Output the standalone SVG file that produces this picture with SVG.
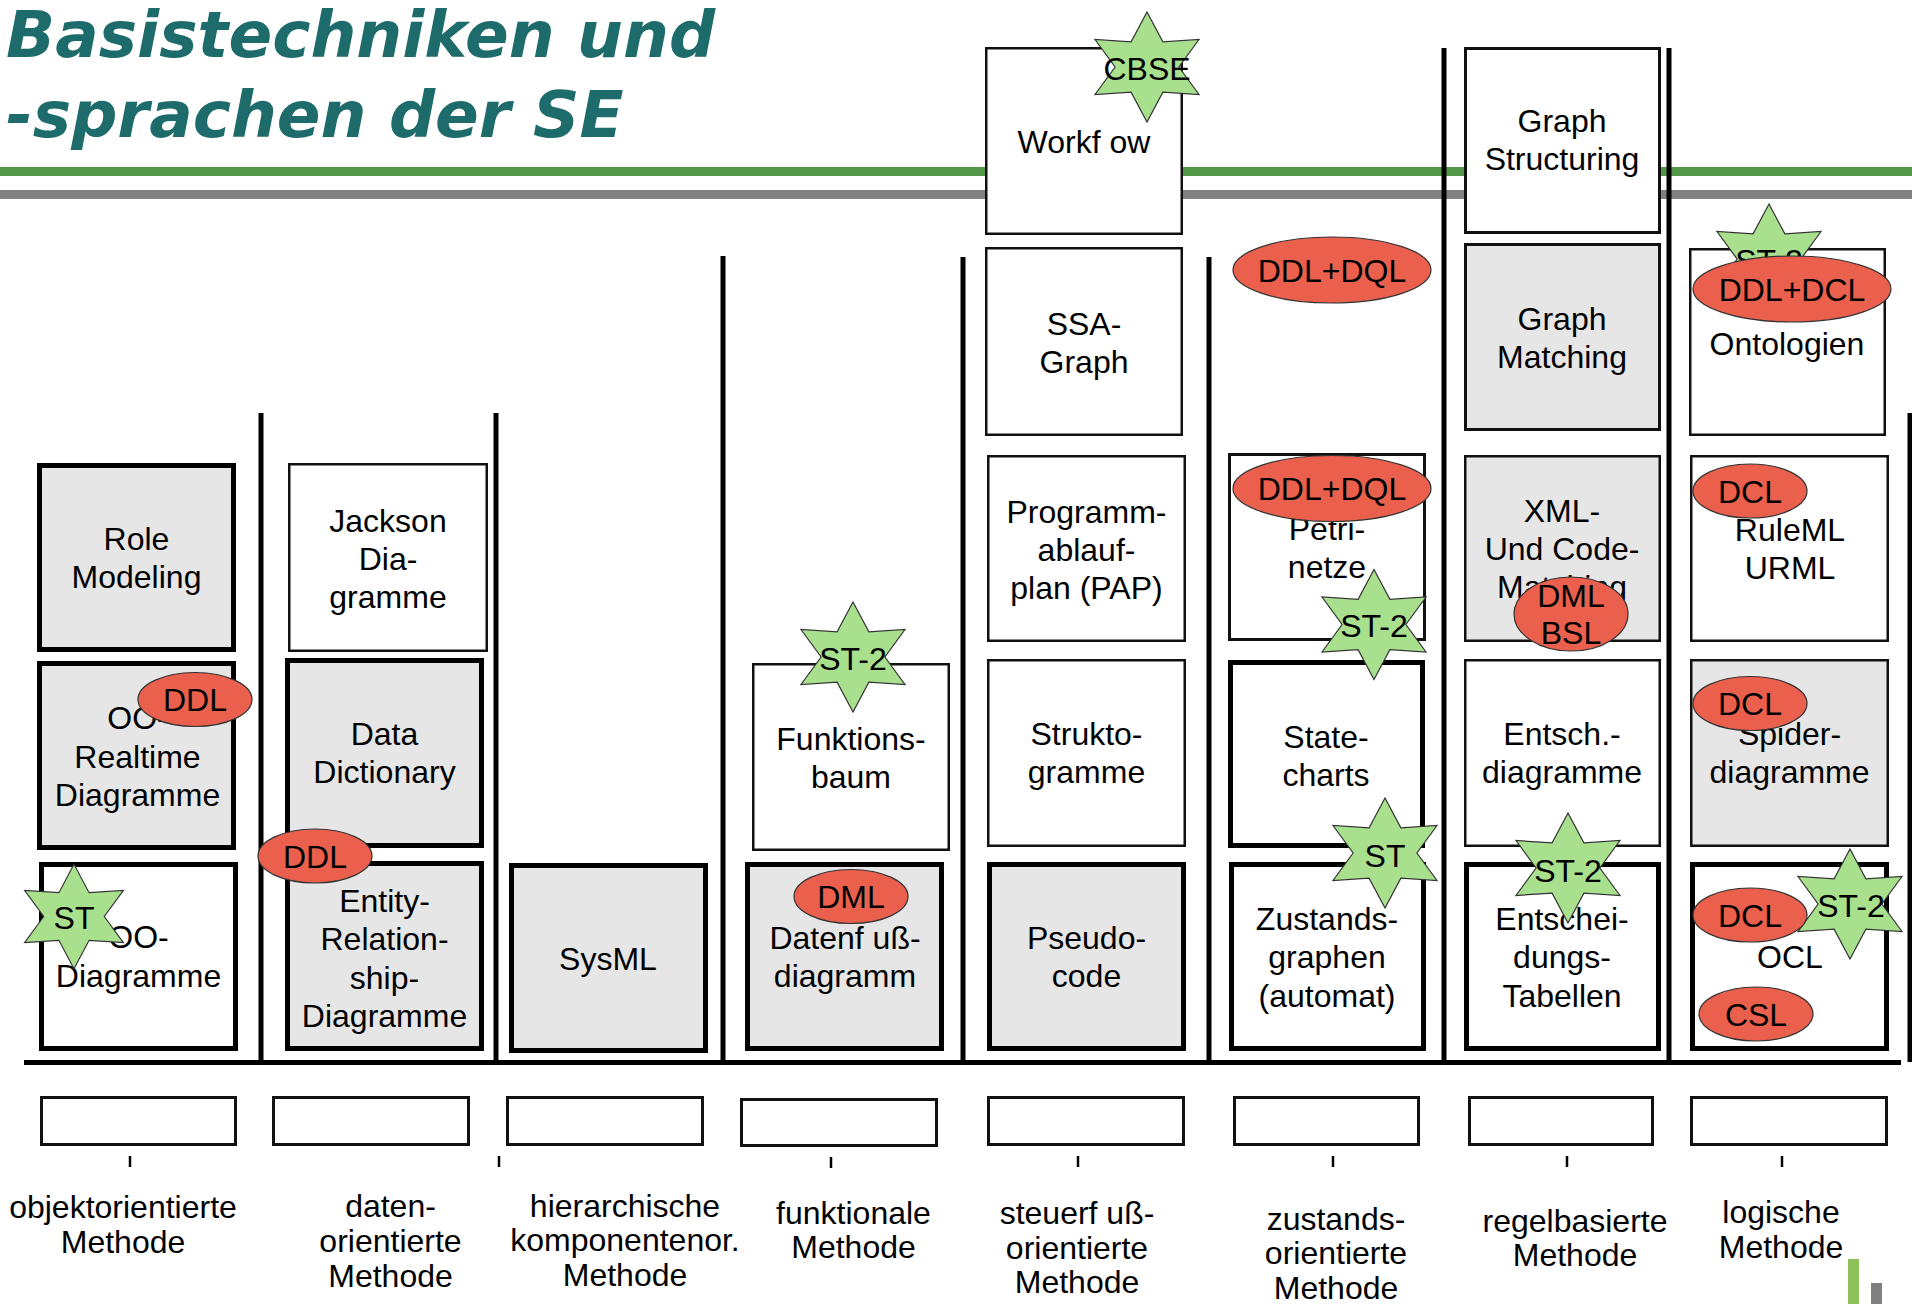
<svg xmlns="http://www.w3.org/2000/svg" width="1912" height="1304" viewBox="0 0 1912 1304">
<style>
.bk{stroke:#000;stroke-width:5}
.bn{stroke:#111;stroke-width:2.5}
.g{fill:#e6e6e6}
.w{fill:#fff}
.t{font-family:"Liberation Sans",Arial,sans-serif;font-size:32px;text-anchor:middle;fill:#000}
.title{font-family:"DejaVu Sans",sans-serif;font-size:64.5px;font-weight:bold;font-style:italic;fill:#1e6b6b}
.star{fill:#a8e08e;stroke:#333;stroke-width:1.2}
.tag{fill:#ea604c;stroke:#333;stroke-width:1.2}
.div{stroke:#000;stroke-width:5;fill:none}
.tick{stroke:#000;stroke-width:2.5}
.empty{fill:#fff;stroke:#111;stroke-width:3}
</style>
<defs>
<polygon id="star" points="0,-55 15.9,-25.1 52,-27.5 31.9,0 52,27.5 15.9,25.1 0,55 -15.9,25.1 -52,27.5 -31.9,0 -52,-27.5 -15.9,-25.1"/>
</defs>
<rect x="0" y="0" width="1912" height="1304" fill="#fff"/>

<g id="header">
<text class="title" x="6" y="57">Basistechniken und</text>
<text class="title" x="6" y="137">-sprachen der SE</text>
<rect x="0" y="167" width="1912" height="9" fill="#529848"/>
<rect x="0" y="190" width="1912" height="9" fill="#808080"/>
</g>

<g id="connectors">
<line class="div" x1="24" y1="1062.5" x2="1901" y2="1062.5"/>
<line class="div" x1="261" y1="413" x2="261" y2="1062"/>
<line class="div" x1="496" y1="413" x2="496" y2="1062"/>
<line class="div" x1="723" y1="256" x2="723" y2="1062"/>
<line class="div" x1="963" y1="257" x2="963" y2="1062"/>
<line class="div" x1="1209" y1="257" x2="1209" y2="1062"/>
<line class="div" x1="1444" y1="48" x2="1444" y2="1062"/>
<line class="div" x1="1669" y1="48" x2="1669" y2="1062"/>
<line class="div" x1="1910" y1="413" x2="1910" y2="1062"/>
<line class="tick" x1="130" y1="1156" x2="130" y2="1167"/>
<line class="tick" x1="499" y1="1156" x2="499" y2="1167"/>
<line class="tick" x1="831" y1="1157" x2="831" y2="1168"/>
<line class="tick" x1="1078" y1="1156" x2="1078" y2="1167"/>
<line class="tick" x1="1333" y1="1156" x2="1333" y2="1167"/>
<line class="tick" x1="1567" y1="1156" x2="1567" y2="1167"/>
<line class="tick" x1="1782" y1="1156" x2="1782" y2="1167"/>
</g>

<!-- Column 1 -->
<g id="role-modeling"><rect class="bk g" x="39.5" y="465.5" width="194" height="184"/>
<text class="t" x="136.5" y="550">Role</text><text class="t" x="136.5" y="588">Modeling</text></g>
<g id="oo-realtime"><rect class="bk g" x="39.5" y="663.5" width="194" height="184"/>
<text class="t" x="137.5" y="729">OO-</text><text class="t" x="137.5" y="768">Realtime</text><text class="t" x="137.5" y="806">Diagramme</text></g>
<g id="oo-diagramme"><rect class="bk w" x="41.5" y="864.5" width="194" height="184"/>
<text class="t" x="138.5" y="948">OO-</text><text class="t" x="138.5" y="987">Diagramme</text></g>

<!-- Column 2 -->
<g id="jackson"><rect class="bn w" x="289.25" y="464.25" width="197.5" height="186.5"/>
<text class="t" x="388" y="532">Jackson</text><text class="t" x="388" y="570">Dia-</text><text class="t" x="388" y="608">gramme</text></g>
<g id="data-dictionary"><rect class="bk g" x="287.5" y="660.5" width="194" height="185"/>
<text class="t" x="384.5" y="745">Data</text><text class="t" x="384.5" y="783">Dictionary</text></g>
<g id="er-diagramme"><rect class="bk g" x="287.5" y="863.5" width="194" height="185"/>
<text class="t" x="384.5" y="912">Entity-</text><text class="t" x="384.5" y="950">Relation-</text><text class="t" x="384.5" y="989">ship-</text><text class="t" x="384.5" y="1027">Diagramme</text></g>

<!-- Column 3 -->
<g id="sysml"><rect class="bk g" x="511.5" y="865.5" width="194" height="185"/>
<text class="t" x="608" y="970">SysML</text></g>

<!-- Column 4 -->
<g id="funktionsbaum"><rect class="bn w" x="753.25" y="664.25" width="195.5" height="185.5"/>
<text class="t" x="851" y="750">Funktions-</text><text class="t" x="851" y="788">baum</text></g>
<g id="datenfluss"><rect class="bk g" x="747.5" y="864.5" width="194" height="184"/>
<text class="t" x="845" y="949">Datenf uß-</text><text class="t" x="845" y="987">diagramm</text></g>

<!-- Column 5 -->
<g id="workflow"><rect class="bn w" x="986.25" y="48.25" width="195.5" height="185.5"/>
<text class="t" x="1084" y="153">Workf ow</text></g>
<g id="ssa-graph"><rect class="bn w" x="986.25" y="248.25" width="195.5" height="186.5"/>
<text class="t" x="1084" y="335">SSA-</text><text class="t" x="1084" y="373">Graph</text></g>
<g id="pap"><rect class="bn w" x="988.25" y="456.25" width="196.5" height="184.5"/>
<text class="t" x="1086.5" y="523">Programm-</text><text class="t" x="1086.5" y="561">ablauf-</text><text class="t" x="1086.5" y="599">plan (PAP)</text></g>
<g id="struktogramme"><rect class="bn w" x="988.25" y="660.25" width="196.5" height="185.5"/>
<text class="t" x="1086.5" y="745">Strukto-</text><text class="t" x="1086.5" y="783">gramme</text></g>
<g id="pseudocode"><rect class="bk g" x="989.5" y="864.5" width="194" height="184"/>
<text class="t" x="1086.5" y="949">Pseudo-</text><text class="t" x="1086.5" y="987">code</text></g>

<!-- Column 6 -->
<g id="petrinetze"><rect class="bn w" x="1229.5" y="454.5" width="195" height="185" style="stroke-width:3"/>
<text class="t" x="1327" y="540">Petri-</text><text class="t" x="1327" y="578">netze</text></g>
<g id="statecharts"><rect class="bk w" x="1230.5" y="662.5" width="192" height="183"/>
<text class="t" x="1326" y="748">State-</text><text class="t" x="1326" y="786">charts</text></g>
<g id="zustandsgraphen"><rect class="bk w" x="1231.5" y="864.5" width="192" height="184"/>
<text class="t" x="1327" y="930">Zustands-</text><text class="t" x="1327" y="968">graphen</text><text class="t" x="1327" y="1007">(automat)</text></g>

<!-- Column 7 -->
<g id="graph-structuring"><rect class="bn w" x="1465.5" y="48.5" width="194" height="184" style="stroke-width:3"/>
<text class="t" x="1562" y="132">Graph</text><text class="t" x="1562" y="170">Structuring</text></g>
<g id="graph-matching"><rect class="bn g" x="1465.5" y="244.5" width="194" height="185" style="stroke-width:3"/>
<text class="t" x="1562" y="330">Graph</text><text class="t" x="1562" y="368">Matching</text></g>
<g id="xml-matching"><rect class="bn g" x="1465.25" y="456.25" width="194.5" height="184.5"/>
<text class="t" x="1562" y="522">XML-</text><text class="t" x="1562" y="560">Und Code-</text><text class="t" x="1562" y="598">Matching</text></g>
<g id="entsch-diagramme"><rect class="bn w" x="1465.25" y="660.25" width="194.5" height="185.5"/>
<text class="t" x="1562" y="745">Entsch.-</text><text class="t" x="1562" y="783">diagramme</text></g>
<g id="entscheidungstabellen"><rect class="bk w" x="1466.5" y="864.5" width="192" height="184"/>
<text class="t" x="1562" y="930">Entschei-</text><text class="t" x="1562" y="968">dungs-</text><text class="t" x="1562" y="1007">Tabellen</text></g>

<!-- Column 8 -->
<g id="ontologien"><rect class="bn w" x="1690.25" y="249.25" width="194.5" height="185.5"/>
<text class="t" x="1787" y="355">Ontologien</text></g>
<g id="ruleml"><rect class="bn w" x="1691.25" y="456.25" width="196.5" height="184.5"/>
<text class="t" x="1790" y="541">RuleML</text><text class="t" x="1790" y="579">URML</text></g>
<g id="spider"><rect class="bn g" x="1691.25" y="660.25" width="196.5" height="185.5"/>
<text class="t" x="1789.5" y="745">Spider-</text><text class="t" x="1789.5" y="783">diagramme</text></g>
<g id="ocl"><rect class="bk w" x="1692.5" y="864.5" width="194" height="184"/>
<text class="t" x="1790" y="968">OCL</text></g>

<!-- Stars -->
<g id="star-cbse"><use href="#star" class="star" transform="translate(1147,67)"/><text class="t" x="1147" y="80">CBSE</text></g>
<g id="star-st2-funk"><use href="#star" class="star" transform="translate(853,657)"/><text class="t" x="853" y="670">ST-2</text></g>
<g id="star-st2-petri"><use href="#star" class="star" transform="translate(1374,624.5)"/><text class="t" x="1374" y="637">ST-2</text></g>
<g id="star-st-state"><use href="#star" class="star" transform="translate(1385,853)"/><text class="t" x="1385" y="867">ST</text></g>
<g id="star-st2-entsch"><use href="#star" class="star" transform="translate(1568,868)"/><text class="t" x="1568" y="882">ST-2</text></g>
<g id="star-st2-onto"><use href="#star" class="star" transform="translate(1769,259)"/><text class="t" x="1769" y="272">ST-2</text></g>
<g id="star-st2-ocl"><use href="#star" class="star" transform="translate(1850,904)"/><text class="t" x="1851" y="917">ST-2</text></g>
<g id="star-st-oo"><use href="#star" class="star" transform="translate(74,916.5) scale(0.95)"/><text class="t" x="74" y="929">ST</text></g>

<!-- Tags -->
<g id="tag-ddl-1"><ellipse class="tag" cx="195" cy="699.5" rx="57" ry="27"/><text class="t" x="195" y="711">DDL</text></g>
<g id="tag-ddl-2"><ellipse class="tag" cx="315" cy="856" rx="57" ry="27"/><text class="t" x="315" y="867.5">DDL</text></g>
<g id="tag-dml-1"><ellipse class="tag" cx="851" cy="896.5" rx="57" ry="27"/><text class="t" x="851" y="908">DML</text></g>
<g id="tag-ddldql-1"><ellipse class="tag" cx="1332" cy="270" rx="99" ry="33"/><text class="t" x="1332" y="281.5">DDL+DQL</text></g>
<g id="tag-ddldql-2"><ellipse class="tag" cx="1332" cy="488.5" rx="99" ry="33"/><text class="t" x="1332" y="500">DDL+DQL</text></g>
<g id="tag-dml-bsl"><ellipse class="tag" cx="1571" cy="614" rx="57" ry="37"/><text class="t" x="1571" y="607">DML</text><text class="t" x="1571" y="644">BSL</text></g>
<g id="tag-ddldcl"><ellipse class="tag" cx="1792" cy="289" rx="99" ry="33"/><text class="t" x="1792" y="300.5">DDL+DCL</text></g>
<g id="tag-dcl-1"><ellipse class="tag" cx="1750" cy="491" rx="57" ry="27"/><text class="t" x="1750" y="503">DCL</text></g>
<g id="tag-dcl-2"><ellipse class="tag" cx="1750" cy="703.5" rx="57" ry="27"/><text class="t" x="1750" y="715">DCL</text></g>
<g id="tag-dcl-3"><ellipse class="tag" cx="1750" cy="915" rx="57" ry="27"/><text class="t" x="1750" y="926.5">DCL</text></g>
<g id="tag-csl"><ellipse class="tag" cx="1756" cy="1014" rx="57" ry="27"/><text class="t" x="1756" y="1025.5">CSL</text></g>

<!-- Method boxes and labels -->
<g id="method-oo"><rect class="empty" x="41.5" y="1097.5" width="194" height="47"/>
<text class="t" x="123" y="1218">objektorientierte</text><text class="t" x="123" y="1253">Methode</text></g>
<g id="method-daten"><rect class="empty" x="273.5" y="1097.5" width="195" height="47"/>
<text class="t" x="390.5" y="1217">daten-</text><text class="t" x="390.5" y="1252">orientierte</text><text class="t" x="390.5" y="1287">Methode</text></g>
<g id="method-hier"><rect class="empty" x="507.5" y="1097.5" width="195" height="47"/>
<text class="t" x="625" y="1217">hierarchische</text><text class="t" x="625" y="1251">komponentenor.</text><text class="t" x="625" y="1286">Methode</text></g>
<g id="method-funk"><rect class="empty" x="741.5" y="1099.5" width="195" height="46"/>
<text class="t" x="853.5" y="1224">funktionale</text><text class="t" x="853.5" y="1258">Methode</text></g>
<g id="method-steuer"><rect class="empty" x="988.5" y="1097.5" width="195" height="47"/>
<text class="t" x="1077" y="1224">steuerf uß-</text><text class="t" x="1077" y="1259">orientierte</text><text class="t" x="1077" y="1293">Methode</text></g>
<g id="method-zust"><rect class="empty" x="1234.5" y="1097.5" width="184" height="47"/>
<text class="t" x="1336" y="1230">zustands-</text><text class="t" x="1336" y="1264">orientierte</text><text class="t" x="1336" y="1299">Methode</text></g>
<g id="method-regel"><rect class="empty" x="1469.5" y="1097.5" width="183" height="47"/>
<text class="t" x="1575" y="1232">regelbasierte</text><text class="t" x="1575" y="1266">Methode</text></g>
<g id="method-logisch"><rect class="empty" x="1691.5" y="1097.5" width="195" height="47"/>
<text class="t" x="1781" y="1223">logische</text><text class="t" x="1781" y="1258">Methode</text></g>

<g id="corner">
<rect x="1848" y="1259" width="11" height="45" fill="#8dc15a"/>
<rect x="1871" y="1283" width="11" height="21" fill="#808080"/>
</g>
</svg>
